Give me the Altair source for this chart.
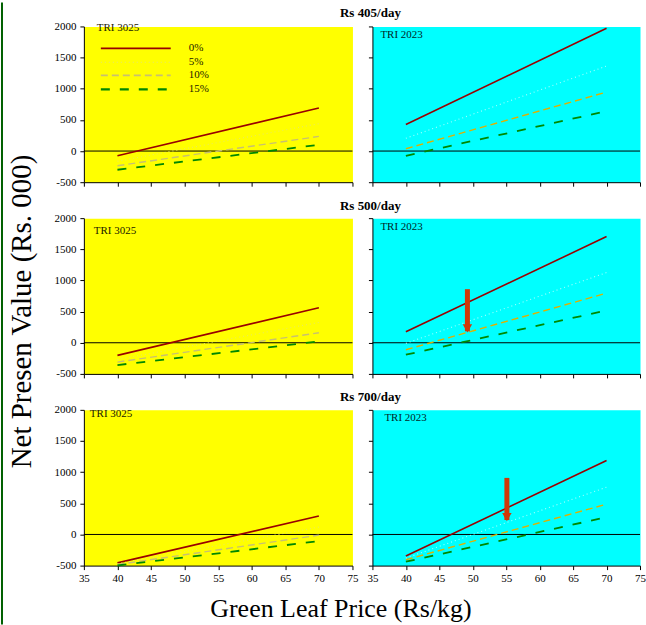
import altair as alt
import pandas as pd

# ---------------- data ----------------
prices = [40, 70]
rates = ["0%", "5%", "10%", "15%"]
wage_titles = ["Rs 405/day", "Rs 500/day", "Rs 700/day"]
clones = ["TRI 3025", "TRI 2023"]
x_ticks = [35, 40, 45, 50, 55, 60, 65, 70, 75]
y_ticks = [-500, 0, 500, 1000, 1500, 2000]

# NPV (Rs. 000) at price 40 and 70 for discount rates 0%, 5%, 10%, 15%
npv_405_tri3025 = [[-75, 690], [-165, 440], [-235, 235], [-300, 100]]
npv_405_tri2023 = [[425, 1970], [205, 1365], [37, 947], [-76, 640]]
npv_500_tri3025 = [[-203, 561], [-270, 326], [-310, 160], [-358, 21]]
npv_500_tri2023 = [[176, 1704], [-10, 1127], [-112, 796], [-192, 518]]
npv_700_tri3025 = [[-456, 295], [-470, 118], [-483, -11], [-498, -107]]
npv_700_tri2023 = [[-347, 1186], [-380, 759], [-406, 486], [-438, 278]]

# arrows (Rs 500 and Rs 700, TRI 2023 panels)
arrow_price = [49.2, 55.1]
arrow_top = [860, 908]
arrow_tip = [166, 214]

# ---------------- style ----------------
FONT = "Liberation Serif"
W_LEFT, W_RIGHT, H = 269, 268, 156
bg = ["#FFFF00", "#00FFFF"]
label_color = ["#202000", "#002828"]
line_colors = [
    ["#990000", "#E8E860", "#C8C070", "#008800"],
    ["#990000", "#A6FFFF", "#E0B000", "#008800"],
]
dashes = [None, [1, 3], [7, 4], [9, 10]]
widths = [1.6, 1.1, 1.4, 1.8]
tri_pos = [[(13, 2), (8, 9)], [(10, 13), (8, 9)], [(6, 4), (12, 8)]]

panels = [
    [npv_405_tri3025, npv_405_tri2023],
    [npv_500_tri3025, npv_500_tri2023],
    [npv_700_tri3025, npv_700_tri2023],
]


def line_mark(color, dash, width):
    kw = dict(color=color, strokeWidth=width)
    if dash is not None:
        kw["strokeDash"] = dash
    return kw


def panel(values, row, col):
    is_left = col == 0
    is_bottom = row == 2
    xscale = alt.Scale(domain=[35, 75], nice=False, zero=False)
    yscale = alt.Scale(domain=[-500, 2000], nice=False, zero=False)

    common = dict(labelFont=FONT, labelFontSize=11, labelColor="black",
                  domainColor="black", tickColor="black", grid=False,
                  titleFont=FONT, titleFontWeight="normal", titleColor="black",
                  tickSize=4)
    xaxis_kw = dict(values=x_ticks, labels=is_bottom, labelFlush=False,
                    labelPadding=3, **common)
    yaxis_kw = dict(values=y_ticks, labels=is_left, labelPadding=4,
                    labelExpr="'' + datum.value", **common)
    x_title = None
    y_title = None
    if is_bottom and is_left:
        x_title = "Green Leaf Price (Rs/kg)"
        xaxis_kw.update(titleX=257, titleY=43, titleAlign="center",
                        titleBaseline="middle", titleFontSize=26)
    if row == 1 and is_left:
        y_title = "Net Presen Value (Rs. 000)"
        yaxis_kw.update(titleX=-62, titleY=93, titleAlign="center",
                        titleBaseline="middle", titleAngle=270,
                        titleFontSize=29)
    x_enc = alt.X("price:Q", scale=xscale, axis=alt.Axis(**xaxis_kw), title=x_title)
    y_enc = alt.Y("npv:Q", scale=yscale, axis=alt.Axis(**yaxis_kw), title=y_title)

    layers = []
    layers.append(
        alt.Chart(pd.DataFrame({"npv": [0]}))
        .mark_rule(color="black", strokeWidth=1)
        .encode(y=y_enc)
    )
    for i, r in enumerate(rates):
        df = pd.DataFrame({"price": prices, "npv": values[i], "rate": [r, r]})
        layers.append(
            alt.Chart(df)
            .mark_line(**line_mark(line_colors[col][i], dashes[i], widths[i]))
            .encode(x=x_enc, y=y_enc)
        )
    if col == 1 and row >= 1:
        k = row - 1
        adf = pd.DataFrame({"price": [arrow_price[k]], "npv": [arrow_top[k]],
                            "tip": [arrow_tip[k]]})
        base = alt.Chart(adf)
        layers.append(
            base.transform_calculate(shaft_end="datum.tip + 18")
            .mark_rule(color="#D03808", strokeWidth=5, strokeCap="butt")
            .encode(x=x_enc, y=y_enc, y2="shaft_end:Q")
        )
        layers.append(
            base.mark_point(shape="triangle-down", filled=True, size=90,
                            color="#D03808", opacity=1, yOffset=-4)
            .encode(x=x_enc, y=alt.Y("tip:Q", scale=yscale,
                                     axis=alt.Axis(**yaxis_kw), title=y_title))
        )
    tx, ty = tri_pos[row][col]
    layers.append(
        alt.Chart(pd.DataFrame({"clone": [clones[col]]}))
        .mark_text(align="left", baseline="middle", font=FONT, fontSize=11,
                   color=label_color[col])
        .encode(x=alt.value(tx), y=alt.value(ty), text="clone:N")
    )
    if row == 0 and is_left:
        leg_y = [22, 36, 49, 63]
        for i, r in enumerate(rates):
            layers.append(
                alt.Chart(pd.DataFrame({"rate": [r]}))
                .mark_rule(**line_mark(line_colors[0][i], dashes[i], widths[i] + 0.3))
                .encode(x=alt.value(17), x2=alt.value(87), y=alt.value(leg_y[i]))
            )
            layers.append(
                alt.Chart(pd.DataFrame({"rate": [r]}))
                .mark_text(align="left", baseline="middle", font=FONT,
                           fontSize=11, color="#202000")
                .encode(x=alt.value(105), y=alt.value(leg_y[i]), text="rate:N")
            )
        # dark green frame stripe at the left edge of the slide
        layers.append(
            alt.Chart(pd.DataFrame({"edge": [0]}))
            .mark_rule(color="#006000", strokeWidth=2)
            .encode(x=alt.value(-82), y=alt.value(-24), y2=alt.value(599))
        )
    props = dict(
        width=W_LEFT if is_left else W_RIGHT,
        height=H,
        view=alt.ViewBackground(fill=bg[col], stroke="transparent"),
    )
    if not is_left:
        props["title"] = alt.TitleParams(
            text=wage_titles[row], anchor="start", align="center", frame="group",
            dx=-2, offset=5, font=FONT, fontSize=13, fontWeight="bold",
            color="black",
        )
    return alt.layer(*layers).properties(**props)


cells = []
for r in range(3):
    cells.append(panel(panels[r][0], r, 0))
    cells.append(panel(panels[r][1], r, 1))

chart = alt.concat(
    *cells,
    columns=2,
    spacing={"row": 36, "column": 20},
    bounds="flush",
).properties(padding=0, background="white").configure_axis(
    labelFont=FONT, labelFontSize=11, labelColor="black",
    domainColor="black", tickColor="black", grid=False,
    titleFont=FONT, titleFontWeight="normal", titleColor="black",
)

chart.save("out.html", embed_options={"renderer": "svg", "actions": False})
